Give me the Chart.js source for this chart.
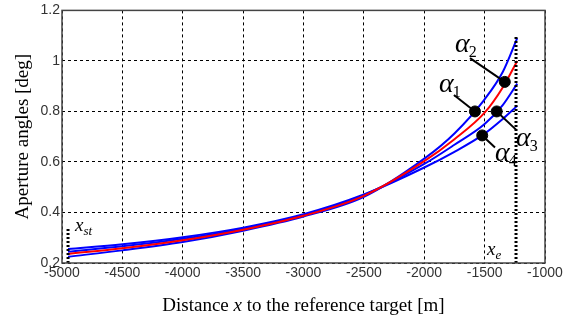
<!DOCTYPE html>
<html>
<head>
<meta charset="utf-8">
<script src="https://cdn.jsdelivr.net/npm/chart.js@4.4.0/dist/chart.umd.min.js"></script>
<style>
  html, body { margin: 0; padding: 0; background: #fff; }
  #wrap { width: 575px; height: 326px; }
</style>
</head>
<body>
<div id="wrap"><canvas id="myChart"></canvas></div>
<script>
// distance samples [m]
var distances = [-4950, -4500, -4000, -3500, -3000, -2500, -2000, -1750, -1500, -1350, -1230];

// aperture angles [deg]
var alpha1 = [0.225, 0.250, 0.283, 0.328, 0.384, 0.462, 0.613, 0.713, 0.848, 0.956, 1.09];
var alpha2 = [0.236, 0.258, 0.290, 0.332, 0.387, 0.466, 0.603, 0.690, 0.795, 0.895, 1.00];
var alpha3 = [0.245, 0.266, 0.296, 0.336, 0.390, 0.469, 0.592, 0.668, 0.750, 0.825, 0.91];
var alpha4 = [0.255, 0.274, 0.302, 0.340, 0.393, 0.471, 0.578, 0.640, 0.712, 0.770, 0.822];

// marked points on the curves, and where their labels sit
var markX = [-1580, -1333, -1400, -1520];
var markY = [0.80, 0.917, 0.80, 0.705];
var labelSub = ['1', '2', '3', '4'];
var labelX = [-1779, -1646, -1141, -1315];
var labelY = [0.905, 1.062, 0.692, 0.633];
var leaderX = [-1754, -1621, -1240, -1414];
var leaderY = [0.865, 1.011, 0.728, 0.657];

var xStart = -4950, xStartTop = 0.34;
var xEnd = -1240, xEndTop = 1.10;

var xTicks = [-5000, -4500, -4000, -3500, -3000, -2500, -2000, -1500, -1000];
var yTicks = [0.2, 0.4, 0.6, 0.8, 1, 1.2];

function pts(ys) {
  return distances.map(function (d, i) { return { x: d, y: ys[i] }; });
}

var extras = {
  id: 'extras',
  afterDraw: function (chart) {
    var c = chart.ctx, a = chart.chartArea;
    var sx = chart.scales.x, sy = chart.scales.y;
    c.save();

    // dotted limit lines
    c.strokeStyle = '#000';
    c.lineWidth = 3;
    c.setLineDash([2, 2]);
    c.beginPath();
    c.moveTo(sx.getPixelForValue(xStart), a.bottom);
    c.lineTo(sx.getPixelForValue(xStart), sy.getPixelForValue(xStartTop));
    c.moveTo(sx.getPixelForValue(xEnd), a.bottom);
    c.lineTo(sx.getPixelForValue(xEnd), sy.getPixelForValue(xEndTop));
    c.stroke();
    c.setLineDash([]);

    // leader lines
    c.lineWidth = 2;
    for (var i = 0; i < markX.length; i++) {
      c.beginPath();
      c.moveTo(sx.getPixelForValue(markX[i]), sy.getPixelForValue(markY[i]));
      c.lineTo(sx.getPixelForValue(leaderX[i]), sy.getPixelForValue(leaderY[i]));
      c.stroke();
    }

    // alpha labels
    c.fillStyle = '#000';
    c.textBaseline = 'alphabetic';
    for (var j = 0; j < labelX.length; j++) {
      var px = sx.getPixelForValue(labelX[j]), py = sy.getPixelForValue(labelY[j]);
      c.font = 'italic 28px "Liberation Serif"';
      c.textAlign = 'left';
      var w = c.measureText('\u03B1').width;
      c.fillText('\u03B1', px - 12, py + 7);
      c.font = '16px "Liberation Serif"';
      c.fillText(labelSub[j], px - 13 + w, py + 12);
    }

    // x_st and x_e
    function sub(txt, s, x, y) {
      c.font = 'italic 19px "Liberation Serif"';
      c.textAlign = 'left';
      c.fillText(txt, x, y);
      var w = c.measureText(txt).width;
      c.font = 'italic 13px "Liberation Serif"';
      c.fillText(s, x + w, y + 4);
    }
    sub('x', 'st', sx.getPixelForValue(-4892), sy.getPixelForValue(0.346) + 5);
    sub('x', 'e', sx.getPixelForValue(-1480), sy.getPixelForValue(0.247) + 4);

    // frame
    c.strokeStyle = '#444';
    c.lineWidth = 1.5;
    c.strokeRect(a.left, a.top, a.right - a.left, a.bottom - a.top);

    // axis titles
    c.fillStyle = '#000';
    var parts = [['Distance ', ''], ['x', 'italic '], [' to the reference target [m]', '']];
    var total = 0;
    parts.forEach(function (p) { c.font = p[1] + '19px "Liberation Serif"'; total += c.measureText(p[0]).width; });
    var x0 = (a.left + a.right) / 2 - total / 2;
    c.textAlign = 'left';
    parts.forEach(function (p) {
      c.font = p[1] + '19px "Liberation Serif"';
      c.fillText(p[0], x0, 311);
      x0 += c.measureText(p[0]).width;
    });

    c.translate(28, (a.top + a.bottom) / 2);
    c.rotate(-Math.PI / 2);
    c.textAlign = 'center';
    c.font = '19px "Liberation Serif"';
    c.fillText('Aperture angles [deg]', 0, 0);
    c.restore();
  }
};

var ctx = document.getElementById('myChart');

var myChart = new Chart(ctx, {
  type: 'line',
  data: {
    datasets: [
      { label: 'marks', type: 'scatter', data: markX.map(function (x, i) { return { x: x, y: markY[i] }; }),
        pointRadius: 5.5, pointBackgroundColor: '#000', pointBorderColor: '#000', showLine: false, order: 0 },
      { label: 'alpha2', data: pts(alpha2), borderColor: '#ff0000', order: 1 },
      { label: 'alpha1', data: pts(alpha1), borderColor: '#0000ff', order: 2 },
      { label: 'alpha3', data: pts(alpha3), borderColor: '#0000ff', order: 2 },
      { label: 'alpha4', data: pts(alpha4), borderColor: '#0000ff', order: 2 }
    ]
  },
  options: {
    responsive: true,
    maintainAspectRatio: false,
    animation: false,
    layout: { padding: { top: 9, right: 30, left: 0, bottom: 0 } },
    elements: {
      line: { borderWidth: 2, cubicInterpolationMode: 'monotone', fill: false },
      point: { radius: 0 }
    },
    plugins: {
      legend: { display: false },
      tooltip: { enabled: false },
      title: { display: false }
    },
    scales: {
      x: {
        type: 'linear',
        min: -5000,
        max: -1000,
        afterBuildTicks: function (s) { s.ticks = xTicks.map(function (v) { return { value: v }; }); },
        afterFit: function (s) { s.height = 63; },
        ticks: {
          color: '#333',
          font: { family: '"Liberation Sans"', size: 14 },
          padding: 2,
          maxRotation: 0,
          callback: function (v) { return String(v); }
        },
        grid: { color: '#000', lineWidth: 1, tickLength: 0 },
        border: { display: false, dash: [3, 3] }
      },
      y: {
        min: 0.2,
        max: 1.2,
        afterBuildTicks: function (s) { s.ticks = yTicks.map(function (v) { return { value: v }; }); },
        afterFit: function (s) { s.width = 62; },
        ticks: {
          color: '#333',
          font: { family: '"Liberation Sans"', size: 14 },
          padding: 2,
          callback: function (v) { return String(Math.round(v * 10) / 10); }
        },
        grid: { color: '#000', lineWidth: 1, tickLength: 0 },
        border: { display: false, dash: [3, 3] }
      }
    }
  },
  plugins: [extras]
});
</script>
</body>
</html>
